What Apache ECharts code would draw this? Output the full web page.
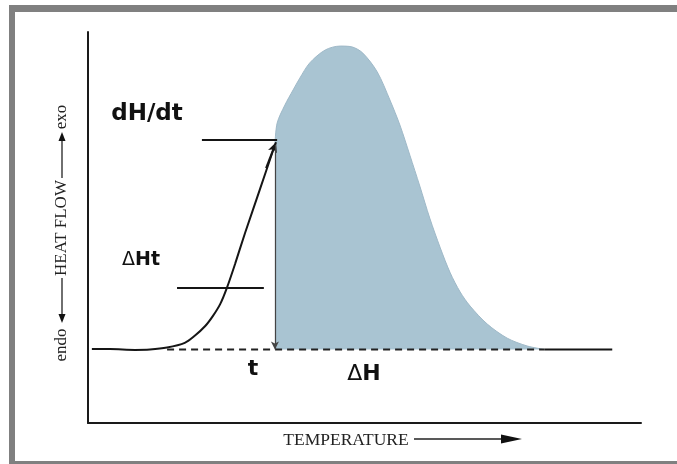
<!DOCTYPE html>
<html>
<head>
<meta charset="utf-8">
<script src="https://cdn.jsdelivr.net/npm/echarts@6/dist/echarts.min.js"></script>
<style>
  html, body { margin: 0; padding: 0; background: #fff; }
  #dsc { width: 677px; height: 464px; }
</style>
</head>
<body>
<div id="dsc"></div>
<script>
// temperature (0..100) / heat flow (0..100), arbitrary units
const riseTemp = [0.7, 4.0, 8.5, 11.2, 14.3, 17.5, 19.3, 21.2, 22.6, 23.9, 25.1, 26.6, 28.4, 31.1, 33.8];
const riseFlow = [18.9, 18.9, 18.7, 18.8, 19.3, 20.5, 22.3, 24.8, 27.4, 30.4, 34.5, 40.7, 48.6, 59.8, 71.1];

const peakTemp = [33.8, 34.2, 35.6, 37.1, 38.3, 40.1, 42.9, 45.6, 47.7, 49.7, 52.3, 54.6, 56.4, 58.2, 60.0, 61.8, 63.7, 65.5, 67.3, 69.1, 72.2, 75.8, 79.4, 82.6];
const peakFlow = [71.1, 76.7, 81.3, 85.2, 88.2, 92.1, 95.4, 96.4, 96.2, 94.6, 89.8, 82.6, 76.2, 68.5, 60.6, 52.4, 44.8, 38.4, 33.5, 29.9, 25.3, 21.7, 19.7, 18.8];

const baseline = 18.8;
const onsetT = 33.8;
const dashedFrom = 14.3;
const peakEnd = 82.6;
const tailEnd = 94.8;

const rateLine = [[20.6, 72.4], [34.2, 72.4]];     // dH/dt marker
const partialLine = [[16.1, 34.5], [31.8, 34.5]];  // ΔHt marker

const zip = (xs, ys) => xs.map((x, i) => [x, ys[i]]);

const chart = echarts.init(document.getElementById('dsc'));

const serifFont = '"Liberation Serif", "DejaVu Serif", serif';
const sansBold = '"DejaVu Sans", "Liberation Sans", sans-serif';

const option = {
  animation: false,
  backgroundColor: '#ffffff',
  grid: { left: 88, top: 32, right: 36, bottom: 41 },
  xAxis: {
    type: 'value', min: 0, max: 100,
    axisLine: { show: true, onZero: false, lineStyle: { color: '#1a1a1a', width: 2 } },
    axisTick: { show: false }, axisLabel: { show: false }, splitLine: { show: false }
  },
  yAxis: {
    type: 'value', min: 0, max: 100,
    axisLine: { show: true, onZero: false, lineStyle: { color: '#1a1a1a', width: 2 } },
    axisTick: { show: false }, axisLabel: { show: false }, splitLine: { show: false }
  },
  series: [
    {
      // shaded peak (ΔH)
      name: 'peak',
      type: 'line',
      data: zip(peakTemp, peakFlow),
      smooth: 0.3,
      symbol: 'none',
      lineStyle: { color: '#9fb9c8', width: 1 },
      areaStyle: { color: '#a9c4d2', opacity: 1, origin: baseline },
      z: 1
    },
    {
      // rising part of the curve with arrow tip
      name: 'rise',
      type: 'line',
      data: zip(riseTemp, riseFlow),
      smooth: 0.3,
      symbol: 'none',
      lineStyle: { color: '#151515', width: 2 },
      markLine: {
        silent: true,
        symbol: ['none', 'arrow'],
        symbolSize: [7, 10],
        label: { show: false },
        lineStyle: { color: '#151515', width: 2, type: 'solid' },
        data: [[{ coord: [32.2, 65.2] }, { coord: [34.0, 71.8] }]]
      },
      z: 3
    },
    {
      name: 'tail',
      type: 'line',
      data: [[peakEnd, baseline], [tailEnd, baseline]],
      symbol: 'none',
      lineStyle: { color: '#151515', width: 2 },
      z: 3
    },
    {
      // dashed extrapolated baseline + onset arrow
      name: 'base',
      type: 'line',
      data: [[dashedFrom, baseline], [peakEnd, baseline]],
      symbol: 'none',
      lineStyle: { color: '#222', width: 2, type: [7, 5] },
      markLine: {
        silent: true,
        symbol: ['none', 'arrow'],
        symbolSize: [6, 8],
        label: { show: false },
        lineStyle: { color: '#444', width: 1.2, type: 'solid' },
        data: [[{ coord: [onsetT, 71.1] }, { coord: [onsetT, baseline] }]]
      },
      z: 4
    },
    {
      name: 'rate',
      type: 'line',
      data: rateLine,
      symbol: 'none',
      lineStyle: { color: '#151515', width: 2 },
      z: 3
    },
    {
      name: 'partial',
      type: 'line',
      data: partialLine,
      symbol: 'none',
      lineStyle: { color: '#151515', width: 2 },
      z: 3
    }
  ],
  graphic: [
    // grey frame
    { type: 'rect', shape: { x: 9, y: 5, width: 668, height: 7 }, style: { fill: '#808080' } },
    { type: 'rect', shape: { x: 9, y: 5, width: 6, height: 459 }, style: { fill: '#808080' } },
    { type: 'rect', shape: { x: 9, y: 461, width: 668, height: 3 }, style: { fill: '#808080' } },

    // annotations
    { type: 'text', x: 147, y: 114, style: { text: 'dH/dt', font: 'bold 23px ' + sansBold, fill: '#111', align: 'center', verticalAlign: 'middle' } },
    { type: 'text', x: 141, y: 260, style: {
        text: '{d|Δ}{b|Ht}', align: 'center', verticalAlign: 'middle', fill: '#111',
        rich: {
          d: { font: '19px ' + sansBold, fill: '#111' },
          b: { font: 'bold 19px ' + sansBold, fill: '#111' }
        }
      } },
    { type: 'text', x: 253, y: 369, style: { text: 't', font: 'bold 22px ' + sansBold, fill: '#111', align: 'center', verticalAlign: 'middle' } },
    { type: 'text', x: 364, y: 374, style: {
        text: '{d|Δ}{b|H}', align: 'center', verticalAlign: 'middle', fill: '#111',
        rich: {
          d: { font: '22px ' + sansBold, fill: '#111' },
          b: { font: 'bold 22px ' + sansBold, fill: '#111' }
        }
      } },

    // y axis caption: endo <-- HEAT FLOW --> exo
    { type: 'text', x: 62, y: 117, rotation: Math.PI / 2, style: { text: 'exo', font: '17px ' + serifFont, fill: '#222', align: 'center', verticalAlign: 'middle' } },
    { type: 'text', x: 62, y: 228, rotation: Math.PI / 2, style: { text: 'HEAT FLOW', font: '17px ' + serifFont, fill: '#222', align: 'center', verticalAlign: 'middle' } },
    { type: 'text', x: 62, y: 345, rotation: Math.PI / 2, style: { text: 'endo', font: '17px ' + serifFont, fill: '#222', align: 'center', verticalAlign: 'middle' } },
    { type: 'line', shape: { x1: 62, y1: 140, x2: 62, y2: 178 }, style: { stroke: '#222', lineWidth: 1.3 } },
    { type: 'polygon', shape: { points: [[62, 132], [58.5, 141], [65.5, 141]] }, style: { fill: '#111' } },
    { type: 'line', shape: { x1: 62, y1: 278, x2: 62, y2: 315 }, style: { stroke: '#222', lineWidth: 1.3 } },
    { type: 'polygon', shape: { points: [[62, 323], [58.5, 314], [65.5, 314]] }, style: { fill: '#111' } },

    // x axis caption: TEMPERATURE -->
    { type: 'text', x: 346, y: 440, style: { text: 'TEMPERATURE', font: '17.5px ' + serifFont, fill: '#222', align: 'center', verticalAlign: 'middle' } },
    { type: 'line', shape: { x1: 414, y1: 439, x2: 503, y2: 439 }, style: { stroke: '#222', lineWidth: 1.3 } },
    { type: 'polygon', shape: { points: [[522, 439], [501, 434.5], [501, 443.5]] }, style: { fill: '#111' } }
  ]
};

chart.setOption(option);
</script>
</body>
</html>
